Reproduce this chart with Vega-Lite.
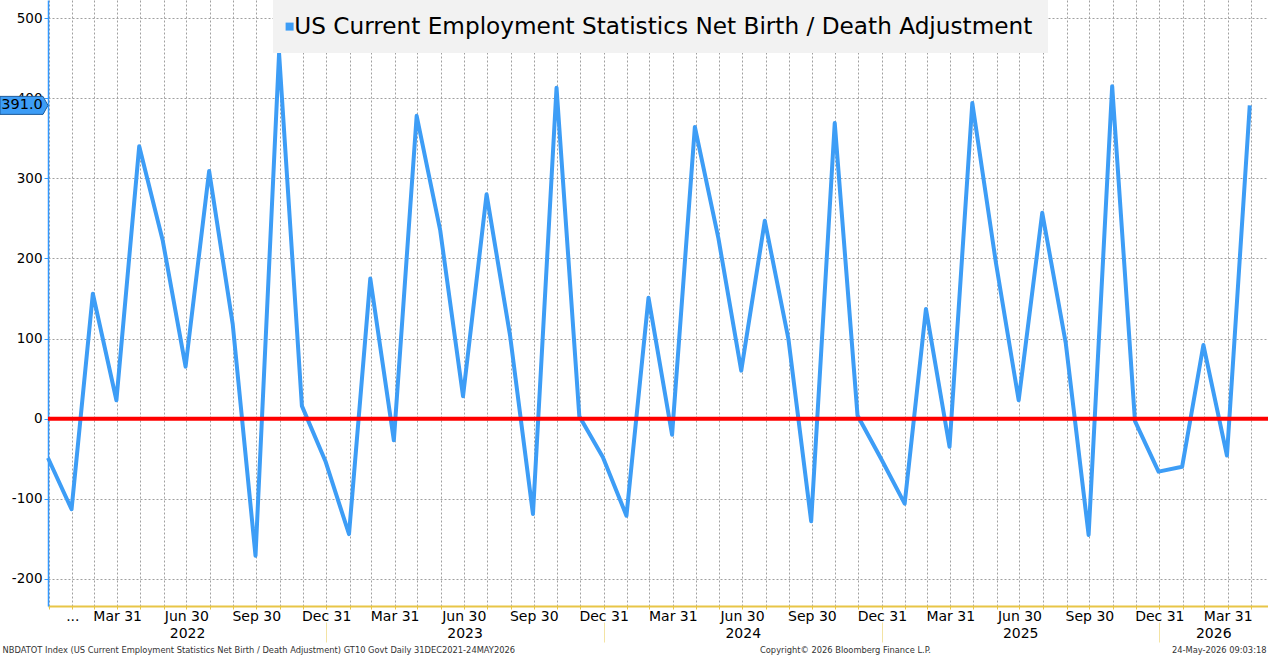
{
  "$schema": "https://vega.github.io/schema/vega-lite/v6.json",
  "width": 1220,
  "height": 606,
  "autosize": {"type": "none"},
  "padding": {"left": 48, "top": 0, "right": 0, "bottom": 50},
  "background": "white",
  "config": {"view": {"stroke": null}, "font": "DejaVu Sans"},
  "datasets": {
    "births": [
      {"date": "2021-12-31", "value": -49},
      {"date": "2022-01-31", "value": -113},
      {"date": "2022-02-28", "value": 156},
      {"date": "2022-03-31", "value": 23},
      {"date": "2022-04-30", "value": 340},
      {"date": "2022-05-31", "value": 222},
      {"date": "2022-06-30", "value": 65},
      {"date": "2022-07-31", "value": 309},
      {"date": "2022-08-31", "value": 118},
      {"date": "2022-09-30", "value": -171},
      {"date": "2022-10-31", "value": 456},
      {"date": "2022-11-30", "value": 16},
      {"date": "2022-12-31", "value": -53},
      {"date": "2023-01-31", "value": -144},
      {"date": "2023-02-28", "value": 175},
      {"date": "2023-03-31", "value": -27},
      {"date": "2023-04-30", "value": 378},
      {"date": "2023-05-31", "value": 235},
      {"date": "2023-06-30", "value": 28},
      {"date": "2023-07-31", "value": 280},
      {"date": "2023-08-31", "value": 103},
      {"date": "2023-09-30", "value": -119},
      {"date": "2023-10-31", "value": 413},
      {"date": "2023-11-30", "value": 3},
      {"date": "2023-12-31", "value": -48},
      {"date": "2024-01-31", "value": -121},
      {"date": "2024-02-29", "value": 151},
      {"date": "2024-03-31", "value": -20},
      {"date": "2024-04-30", "value": 364},
      {"date": "2024-05-31", "value": 225},
      {"date": "2024-06-30", "value": 60},
      {"date": "2024-07-31", "value": 247},
      {"date": "2024-08-31", "value": 100},
      {"date": "2024-09-30", "value": -128},
      {"date": "2024-10-31", "value": 369},
      {"date": "2024-11-30", "value": 4},
      {"date": "2024-12-31", "value": -50},
      {"date": "2025-01-31", "value": -106},
      {"date": "2025-02-28", "value": 137},
      {"date": "2025-03-31", "value": -35},
      {"date": "2025-04-30", "value": 394},
      {"date": "2025-05-31", "value": 195},
      {"date": "2025-06-30", "value": 23},
      {"date": "2025-07-31", "value": 257},
      {"date": "2025-08-31", "value": 94},
      {"date": "2025-09-30", "value": -145},
      {"date": "2025-10-31", "value": 415},
      {"date": "2025-11-30", "value": -3},
      {"date": "2025-12-31", "value": -66},
      {"date": "2026-01-31", "value": -60},
      {"date": "2026-02-28", "value": 92},
      {"date": "2026-03-31", "value": -46},
      {"date": "2026-04-30", "value": 391}
    ],
    "years": [
      {"year": "2022", "mid": "2022-07-02", "start": "2022-01-01"},
      {"year": "2023", "mid": "2023-07-02", "start": "2023-01-01"},
      {"year": "2024", "mid": "2024-07-02", "start": "2024-01-01"},
      {"year": "2025", "mid": "2025-07-02", "start": "2025-01-01"},
      {"year": "2026", "mid": "2026-03-13", "start": "2026-01-01"}
    ],
    "zero": [
      {"level": 0}
    ],
    "last": [
      {"date": "2026-04-30", "value": 391.0}
    ]
  },
  "layer": [
    {
      "data": {"name": "births"},
      "mark": {"type": "line", "strokeWidth": 4, "strokeJoin": "round"},
      "encoding": {
        "x": {
          "field": "date",
          "type": "temporal",
          "scale": {
            "type": "utc",
            "nice": false,
            "domain": [
              {"year": 2021, "month": 12, "date": 31, "utc": true},
              {"year": 2026, "month": 5, "date": 24, "utc": true}
            ]
          },
          "axis": {
            "orient": "bottom",
            "title": "NBDATOT Index (US Current Employment Statistics Net Birth / Death Adjustment) GT10  Govt Daily 31DEC2021-24MAY2026",
            "titleFont": "DejaVu Sans",
            "titleFontSize": 8.3,
            "titleFontWeight": "normal",
            "titleColor": "#333333",
            "titleX": -46,
            "titleY": 44,
            "titleAlign": "left",
            "titleBaseline": "middle",
            "tickCount": {"interval": "month", "step": 1},
            "labelExpr": "utcmonth(datum.value) % 3 == 0 && datum.value > utc(2022, 0, 2) ? utcFormat(datum.value - 86400000, '%b %d') : (utcyear(datum.value) == 2022 && utcmonth(datum.value) == 1 ? '...' : '')",
            "labelOverlap": false,
            "labelBound": false,
            "labelFlush": false,
            "labelFont": "DejaVu Sans",
            "labelFontSize": 14,
            "labelColor": "black",
            "labelPadding": 0,
            "tickSize": 3,
            "tickColor": "#e8c547",
            "domainColor": "#e8c547",
            "domainWidth": 2,
            "grid": true,
            "gridColor": "#a0a0a0",
            "gridDash": [2, 2],
            "gridWidth": 1
          }
        },
        "y": {
          "field": "value",
          "type": "quantitative",
          "scale": {"domain": [-233.7, 522.5], "nice": false, "zero": false},
          "axis": {
            "title": null,
            "values": [-200, -100, 0, 100, 200, 300, 400, 500],
            "labelExpr": "'' + datum.value",
            "labelFont": "DejaVu Sans",
            "labelFontSize": 13.5,
            "labelColor": "black",
            "labelPadding": 2,
            "tickSize": 4,
            "tickColor": "#3399ff",
            "domainColor": "#3399ff",
            "domainWidth": 1.5,
            "grid": true,
            "gridColor": "#a0a0a0",
            "gridDash": [2, 2],
            "gridWidth": 1
          }
        },
        "color": {
          "datum": "US Current Employment Statistics Net Birth / Death Adjustment",
          "type": "nominal",
          "scale": {"range": ["#3d9df6"]},
          "legend": {
            "title": null,
            "orient": "none",
            "legendX": 225,
            "legendY": 0,
            "fillColor": "#f2f2f2",
            "padding": 15,
            "symbolType": "square",
            "symbolSize": 64,
            "symbolOffset": -10,
            "symbolFillColor": "#3d9df6",
            "symbolStrokeWidth": 0,
            "labelFont": "DejaVu Sans",
            "labelFontSize": 23.2,
            "labelColor": "black",
            "labelOffset": -7,
            "labelLimit": 0
          }
        }
      }
    },
    {
      "data": {"name": "zero"},
      "mark": {"type": "rule", "color": "#ff0000", "strokeWidth": 4},
      "encoding": {
        "y": {"field": "level", "type": "quantitative", "title": null}
      }
    },
    {
      "data": {"name": "last"},
      "mark": {
        "type": "point",
        "shape": "M0,0L-5,-9L-48,-9L-48,9L-5,9Z",
        "size": 4,
        "filled": true,
        "fill": "#3d9df6",
        "stroke": "#1f5c99",
        "strokeWidth": 1,
        "opacity": 1
      },
      "encoding": {
        "x": {
          "datum": {"year": 2021, "month": 12, "date": 31, "utc": true},
          "type": "temporal",
          "scale": {"type": "utc"},
          "axis": null
        },
        "y": {"field": "value", "type": "quantitative", "title": null}
      }
    },
    {
      "data": {"name": "last"},
      "mark": {
        "type": "text",
        "dx": -26,
        "align": "center",
        "baseline": "middle",
        "font": "DejaVu Sans",
        "fontSize": 14.5,
        "color": "black"
      },
      "encoding": {
        "x": {
          "datum": {"year": 2021, "month": 12, "date": 31, "utc": true},
          "type": "temporal",
          "scale": {"type": "utc"},
          "axis": null
        },
        "y": {"field": "value", "type": "quantitative", "title": null},
        "text": {"field": "value", "format": ".1f"}
      }
    },
    {
      "data": {"name": "years"},
      "mark": {"type": "point", "opacity": 0},
      "encoding": {
        "x": {
          "field": "mid",
          "type": "temporal",
          "scale": {"type": "utc"},
          "axis": {
            "orient": "bottom",
            "values": [
              {"year": 2022, "month": 7, "date": 2, "utc": true},
              {"year": 2023, "month": 7, "date": 2, "utc": true},
              {"year": 2024, "month": 7, "date": 2, "utc": true},
              {"year": 2025, "month": 7, "date": 2, "utc": true},
              {"year": 2026, "month": 3, "date": 13, "utc": true}
            ],
            "labelExpr": "utcFormat(datum.value, '%Y')",
            "ticks": false,
            "domain": false,
            "grid": false,
            "labelOverlap": false,
            "labelBound": false,
            "labelFlush": false,
            "labelFont": "DejaVu Sans",
            "labelFontSize": 14,
            "labelColor": "black",
            "labelPadding": 20,
            "title": "Copyright© 2026 Bloomberg Finance L.P.",
            "titleFont": "DejaVu Sans",
            "titleFontSize": 8.3,
            "titleFontWeight": "normal",
            "titleColor": "#333333",
            "titleX": 797,
            "titleY": 44,
            "titleAlign": "center",
            "titleBaseline": "middle"
          }
        }
      }
    },
    {
      "data": {"name": "years"},
      "mark": {"type": "point", "opacity": 0},
      "encoding": {
        "x": {
          "field": "start",
          "type": "temporal",
          "scale": {"type": "utc"},
          "axis": {
            "orient": "bottom",
            "values": [
              {"year": 2023, "month": 1, "date": 1, "utc": true},
              {"year": 2024, "month": 1, "date": 1, "utc": true},
              {"year": 2025, "month": 1, "date": 1, "utc": true},
              {"year": 2026, "month": 1, "date": 1, "utc": true}
            ],
            "offset": 16,
            "labels": false,
            "domain": false,
            "grid": false,
            "ticks": true,
            "tickSize": 20,
            "tickColor": "#f3e3a3",
            "tickWidth": 1,
            "title": "24-May-2026 09:03:18",
            "titleFont": "DejaVu Sans",
            "titleFontSize": 8.3,
            "titleFontWeight": "normal",
            "titleColor": "#333333",
            "titleX": 1218,
            "titleY": 28,
            "titleAlign": "right",
            "titleBaseline": "middle"
          }
        }
      }
    }
  ],
  "resolve": {"axis": {"x": "independent"}}
}
